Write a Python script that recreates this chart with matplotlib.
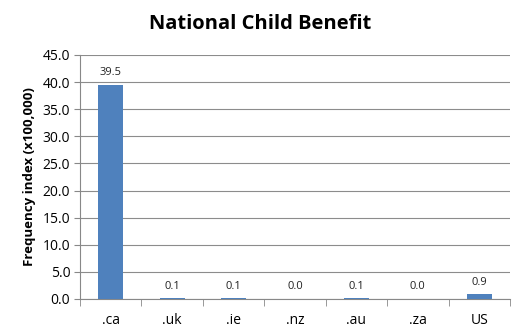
import matplotlib
matplotlib.use("Agg")
import matplotlib.pyplot as plt

categories = [".ca", ".uk", ".ie", ".nz", ".au", ".za", "US"]
values = [39.5, 0.1, 0.1, 0.0, 0.1, 0.0, 0.9]
yticks = [0, 5, 10, 15, 20, 25, 30, 35, 40, 45]

plt.rcParams['font.family'] = ['Open Sans', 'DejaVu Sans']

fig = plt.figure(figsize=(5.23, 3.36), dpi=100)
ax = fig.add_axes([80/523, 1 - 299/336, (510-80)/523, (299-55)/336])

x = list(range(len(categories)))
ax.bar(x, values, width=0.41, color='#4F81BD', zorder=3)
for xi, v in zip(x, values):
    ax.text(xi, v + 1.2, f"{v:.1f}", ha='center', va='bottom', fontsize=8, color='#222222')

ax.set_xlim(-0.5, len(categories) - 0.5)
ax.set_ylim(0, 45)
ax.set_yticks(yticks)
ax.set_yticklabels([f"{t:.1f}" for t in yticks], fontsize=10)
ax.set_xticks(x)
ax.set_xticklabels(categories, fontsize=10)
ax.set_xticks([i - 0.5 for i in range(len(categories) + 1)], minor=True)
ax.tick_params(axis='x', which='major', length=0, pad=10)
ax.tick_params(axis='x', which='minor', length=5, color='#888888', direction='out')
ax.tick_params(axis='y', length=4, color='#888888', direction='out', pad=3)

ax.grid(axis='y', color='#8c8c8c', linewidth=0.8, zorder=0)
for s in ['top', 'right']:
    ax.spines[s].set_visible(False)
for s in ['left', 'bottom']:
    ax.spines[s].set_color('#888888')
    ax.spines[s].set_linewidth(0.8)

ax.set_ylabel("Frequency index (x100,000)", fontsize=9.5, fontweight='bold', labelpad=5)
fig.text(260/523, 1 - 24/336, "National Child Benefit", ha='center', va='center',
         fontsize=14.5, fontweight='bold')

fig.savefig("out.png", dpi=100)
